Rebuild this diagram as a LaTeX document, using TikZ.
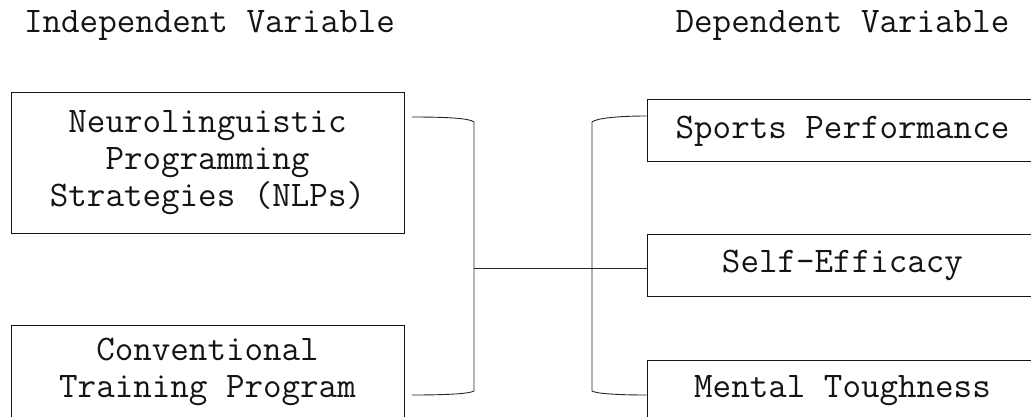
\documentclass[tikz,border=0pt]{standalone}
\usepackage{fontspec}
\usetikzlibrary{positioning}
\definecolor{inkBlack}{RGB}{20, 20, 20}
\definecolor{lineGray}{RGB}{40, 40, 40}

\tikzset{
    varbox/.style={draw=inkBlack, line width=1pt, align=center, inner sep=0pt,
        font=\fontsize{36pt}{37pt}\selectfont\ttfamily, text=inkBlack},
    varhead/.style={inner sep=0pt, anchor=base,
        font=\fontsize{36pt}{37pt}\selectfont\ttfamily, text=inkBlack},
    link/.style={draw=lineGray, line width=0.9pt}
}

\begin{document}
\begin{tikzpicture}[x=1pt, y=-1pt]
    \useasboundingbox (0,0) rectangle (1031,417);
    \clip (0,0) rectangle (1031,417);

    % headings
    \node[varhead] (indHead) at (209.5,33) {Independent Variable};
    \node[varhead] (depHead) at (842.5,33) {Dependent Variable};

    % independent side
    \node[varbox, minimum width=393pt, minimum height=140pt] (nlp) at (207.5,163)
        {Neurolinguistic\\Programming\\Strategies (NLPs)};
    \node[varbox, minimum width=393pt, minimum height=94pt] (ctp) at (207.5,372)
        {Conventional\\Training Program};

    % dependent side
    \node[varbox, minimum width=391pt, minimum height=62pt] (sport) at (842.5,131) {Sports Performance};
    \node[varbox, minimum width=391pt, minimum height=62pt] (selfeff) at (842.5,265) {Self-Efficacy};
    \node[varbox, minimum width=391pt, minimum height=62pt] (mental) at (842.5,391) {Mental Toughness};

    % bracket points
    \coordinate (inTop) at (412,117);
    \coordinate (inBot) at (412,395);
    \coordinate (joinL) at (474,268);
    \coordinate (outTop) at (sport.west |- 0,116);
    \coordinate (outBot) at (mental.west |- 0,395);

    % left bracket
    \draw[link] (inTop) .. controls (450,117) and (470,118.5) .. (474,122)
        -- (474,391) .. controls (470,393.5) and (450,395) .. (inBot);
    % joining line
    \draw[link] (joinL) -- (joinL -| selfeff.west);
    % right bracket
    \draw[link] (outTop) .. controls (616,116) and (596,118.5) .. (592,122)
        -- (592,391) .. controls (596,393.5) and (616,395) .. (outBot);
\end{tikzpicture}
\end{document}
